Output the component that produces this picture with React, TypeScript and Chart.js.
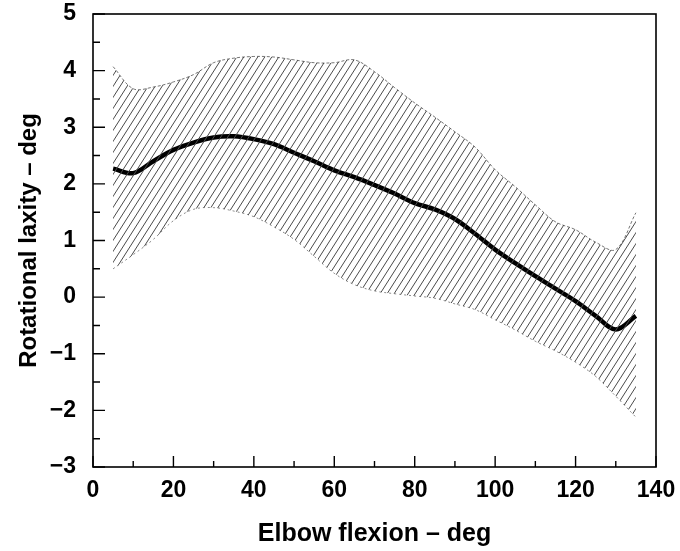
import React, { useEffect, useRef } from "react";
import { Chart, registerables } from "chart.js";

Chart.register(...registerables);

// Elbow flexion (deg)
const flexion = [5, 10, 15, 20, 25, 30, 35, 40, 45, 50, 55, 60, 65, 70, 75, 80, 85, 90, 95, 100, 105, 110, 115, 120, 125, 130, 135];
// Mean rotational laxity (deg)
const meanLaxity = [2.27, 2.19, 2.40, 2.60, 2.73, 2.82, 2.84, 2.79, 2.70, 2.55, 2.40, 2.24, 2.12, 1.98, 1.83, 1.66, 1.55, 1.38, 1.12, 0.84, 0.60, 0.37, 0.15, -0.07, -0.33, -0.57, -0.33];
// Upper limit of the band
const upperLaxity = [4.07, 3.68, 3.71, 3.80, 3.93, 4.14, 4.22, 4.25, 4.24, 4.19, 4.14, 4.14, 4.19, 3.98, 3.70, 3.43, 3.18, 2.92, 2.65, 2.25, 1.95, 1.63, 1.33, 1.19, 0.97, 0.84, 1.49];
// Lower limit of the band
const lowerLaxity = [0.50, 0.75, 1.02, 1.35, 1.55, 1.58, 1.52, 1.42, 1.24, 1.02, 0.72, 0.42, 0.22, 0.11, 0.06, 0.02, -0.02, -0.12, -0.22, -0.40, -0.58, -0.78, -0.95, -1.15, -1.40, -1.75, -2.12];

const xTickValues = [0, 20, 40, 60, 80, 100, 120, 140];
const xTickLabels = ["0", "20", "40", "60", "80", "100", "120", "140"];
const yTickValues = [-3, -2, -1, 0, 1, 2, 3, 4, 5];
const yTickLabels = ["\u22123", "\u22122", "\u22121", "0", "1", "2", "3", "4", "5"];

const xTitle = "Elbow flexion \u2013 deg";
const yTitle = "Rotational laxity \u2013 deg";

const FONT = "'Liberation Sans', Arial, Helvetica, sans-serif";

function makeHatch(): CanvasPattern | string {
  const w = 7;
  const h = 11;
  const c = document.createElement("canvas");
  c.width = w;
  c.height = h;
  const g = c.getContext("2d");
  if (!g) return "rgba(0,0,0,0.3)";
  g.strokeStyle = "#4a4a4a";
  g.lineWidth = 1;
  for (const off of [-w, 0, w]) {
    g.beginPath();
    g.moveTo(off, h);
    g.lineTo(off + w, 0);
    g.stroke();
  }
  const p = g.createPattern(c, "repeat");
  return p || "rgba(0,0,0,0.3)";
}

const framePlugin = {
  id: "frameAndTicks",
  afterDatasetsDraw(chart: any) {
    const { ctx, chartArea, scales } = chart;
    const xs = scales.x;
    const ys = scales.y;
    ctx.save();
    ctx.strokeStyle = "#000";
    ctx.lineWidth = 1.6;
    ctx.strokeRect(chartArea.left, chartArea.top, chartArea.right - chartArea.left, chartArea.bottom - chartArea.top);
    ctx.lineWidth = 1.4;
    ctx.beginPath();
    for (let v = 0; v <= 140; v += 10) {
      const px = xs.getPixelForValue(v);
      const len = v % 20 === 0 ? 11 : 6;
      ctx.moveTo(px, chartArea.bottom);
      ctx.lineTo(px, chartArea.bottom - len);
    }
    for (let v = -3; v <= 5; v += 0.5) {
      const py = ys.getPixelForValue(v);
      const len = Number.isInteger(v) ? 12 : 7;
      ctx.moveTo(chartArea.left, py);
      ctx.lineTo(chartArea.left + len, py);
    }
    ctx.stroke();
    ctx.restore();
  },
};

export default function App() {
  const ref = useRef<HTMLCanvasElement | null>(null);

  useEffect(() => {
    if (!ref.current) return;
    const hatch = makeHatch();
    const pts = (ys: number[]) => flexion.map((x, i) => ({ x, y: ys[i] }));
    const chart = new Chart(ref.current, {
      type: "line",
      data: {
        datasets: [
          {
            label: "upper",
            data: pts(upperLaxity),
            borderColor: "rgba(60,60,60,0.7)",
            borderWidth: 1,
            borderDash: [3, 2],
            backgroundColor: hatch as any,
            fill: "+1",
            pointRadius: 0,
            tension: 0.35,
          },
          {
            label: "lower",
            data: pts(lowerLaxity),
            borderColor: "rgba(60,60,60,0.6)",
            borderWidth: 1,
            borderDash: [2, 3],
            fill: false,
            pointRadius: 0,
            tension: 0.35,
          },
          {
            label: "mean",
            data: pts(meanLaxity),
            borderColor: "#000",
            borderWidth: 4.5,
            fill: false,
            pointRadius: 0,
            tension: 0.35,
          },
        ],
      },
      options: {
        animation: false,
        responsive: true,
        maintainAspectRatio: false,
        layout: { padding: { top: 14, right: 24, left: 0, bottom: 0 } },
        plugins: { legend: { display: false }, tooltip: { enabled: false } },
        scales: {
          x: {
            type: "linear",
            min: 0,
            max: 140,
            afterBuildTicks: (s: any) => {
              s.ticks = xTickValues.map((v) => ({ value: v }));
            },
            afterFit: (s: any) => {
              s.height = 84;
              s.paddingLeft = 0;
              s.paddingRight = 0;
            },
            grid: { display: false, drawTicks: false },
            border: { display: false },
            ticks: {
              padding: 10,
              color: "#000",
              maxRotation: 0,
              font: { family: FONT, size: 23, weight: "bold" },
              callback: (_v: any, i: number) => xTickLabels[i],
            },
            title: {
              display: true,
              text: xTitle,
              color: "#000",
              font: { family: FONT, size: 25, weight: "bold" },
              padding: { top: 0, bottom: 2 },
            },
          },
          y: {
            type: "linear",
            min: -3,
            max: 5,
            afterBuildTicks: (s: any) => {
              s.ticks = yTickValues.map((v) => ({ value: v }));
            },
            afterFit: (s: any) => {
              s.width = 93;
              s.paddingTop = 0;
              s.paddingBottom = 0;
            },
            grid: { display: false, drawTicks: false },
            border: { display: false },
            ticks: {
              padding: 17,
              color: "#000",
              font: { family: FONT, size: 23, weight: "bold" },
              callback: (_v: any, i: number) => yTickLabels[i],
            },
            title: {
              display: true,
              text: yTitle,
              color: "#000",
              font: { family: FONT, size: 24, weight: "bold" },
              padding: { top: 15, bottom: 0 },
            },
          },
        },
      },
      plugins: [framePlugin],
    });
    return () => chart.destroy();
  }, []);

  return (
    <div style={{ position: "absolute", left: 0, top: 0, width: 680, height: 551, background: "#fff" }}>
      <canvas ref={ref} />
    </div>
  );
}
